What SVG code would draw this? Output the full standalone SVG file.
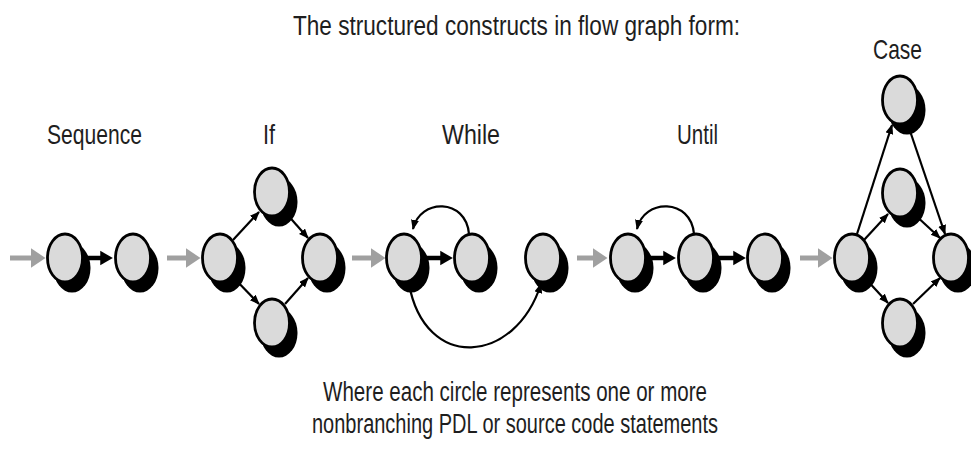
<svg xmlns="http://www.w3.org/2000/svg" xmlns:xlink="http://www.w3.org/1999/xlink" width="971" height="453" viewBox="0 0 971 453">
<style>
text{font-family:"Liberation Sans Narrow","Liberation Sans",Arial,sans-serif;fill:#1e1e1e;}
.t{font-size:27px;}
.l{font-size:28px;}
.sh{fill:#000;}
.nd{fill:#dadada;stroke:#000;stroke-width:2.8;}
.g{stroke:#a0a0a0;stroke-width:5;fill:none;marker-end:url(#ag);}
.k{stroke:#000;stroke-width:4.5;fill:none;marker-end:url(#ak);}
.e{stroke:#000;stroke-width:2.2;fill:none;marker-end:url(#ae);}
</style>
<defs>
<marker id="ag" markerWidth="4" markerHeight="4" refX="1.5" refY="2" orient="auto" markerUnits="strokeWidth"><path d="M0,0 L3,2 L0,4 z" fill="#a0a0a0"/></marker>
<marker id="ak" markerWidth="4" markerHeight="4" refX="1.5" refY="2" orient="auto" markerUnits="strokeWidth"><path d="M0,0.4 L2.8,2 L0,3.6 z" fill="#000"/></marker>
<marker id="ae" markerWidth="12" markerHeight="10" refX="9" refY="4" orient="auto" markerUnits="userSpaceOnUse"><path d="M0,0 L10,4 L0,8 z" fill="#000"/></marker>
<g id="n"><ellipse class="sh" cx="7" cy="10" rx="18.5" ry="24.5"/><ellipse class="nd" cx="0" cy="0" rx="17.5" ry="24"/></g>
</defs>

<text class="t" x="293" y="35" textLength="447" lengthAdjust="spacingAndGlyphs">The structured constructs in flow graph form:</text>
<text class="l" x="47" y="144" textLength="95" lengthAdjust="spacingAndGlyphs">Sequence</text>
<text class="l" x="263" y="144" textLength="12" lengthAdjust="spacingAndGlyphs">If</text>
<text class="l" x="442" y="144" textLength="58" lengthAdjust="spacingAndGlyphs">While</text>
<text class="l" x="677" y="144" textLength="41" lengthAdjust="spacingAndGlyphs">Until</text>
<text class="l" x="873" y="59" textLength="49" lengthAdjust="spacingAndGlyphs">Case</text>
<text class="t" x="323" y="401" textLength="384" lengthAdjust="spacingAndGlyphs">Where each circle represents one or more</text>
<text class="t" x="312" y="433" textLength="406" lengthAdjust="spacingAndGlyphs">nonbranching PDL or source code statements</text>

<g id="connectors">
<line class="g" x1="10" y1="258" x2="38" y2="258"/>
<line class="k" x1="84" y1="258" x2="107" y2="258"/>
<line class="g" x1="167" y1="258" x2="193" y2="258"/>
<line class="e" x1="233" y1="240" x2="259" y2="212"/>
<line class="e" x1="285" y1="212" x2="308" y2="238"/>
<line class="e" x1="233" y1="277" x2="259" y2="304"/>
<line class="e" x1="285" y1="304" x2="308" y2="278"/>
<line class="g" x1="352" y1="258" x2="378" y2="258"/>
<line class="k" x1="423" y1="258" x2="447" y2="258"/>
<path class="e" d="M469,234 C466,198 420,198 413,229"/>
<path class="e" d="M409,284 C425,372 515,365 541,284"/>
<line class="g" x1="577" y1="258" x2="600" y2="258"/>
<line class="k" x1="647" y1="258" x2="670" y2="258"/>
<line class="k" x1="715" y1="258" x2="740" y2="258"/>
<path class="e" d="M694,234 C691,198 644,198 637,229"/>
<line class="g" x1="800" y1="258" x2="825" y2="258"/>
<line class="e" x1="857" y1="234" x2="892" y2="125"/>
<line class="e" x1="908" y1="125" x2="945" y2="234"/>
<line class="e" x1="864" y1="240" x2="888" y2="214"/>
<line class="e" x1="913" y1="213" x2="940" y2="238"/>
<line class="e" x1="864" y1="277" x2="888" y2="303"/>
<line class="e" x1="913" y1="304" x2="940" y2="278"/>
</g>

<g id="seq1"><use xlink:href="#n" x="65" y="258"/></g>
<g id="seq2"><use xlink:href="#n" x="133" y="258"/></g>
<g id="if1"><use xlink:href="#n" x="220" y="258"/></g>
<g id="if2"><use xlink:href="#n" x="272" y="192"/></g>
<g id="if3"><use xlink:href="#n" x="320" y="258"/></g>
<g id="if4"><use xlink:href="#n" x="272" y="323"/></g>
<g id="wh1"><use xlink:href="#n" x="404" y="258"/></g>
<g id="wh2"><use xlink:href="#n" x="472" y="258"/></g>
<g id="wh3"><use xlink:href="#n" x="543" y="258"/></g>
<g id="un1"><use xlink:href="#n" x="628" y="258"/></g>
<g id="un2"><use xlink:href="#n" x="696" y="258"/></g>
<g id="un3"><use xlink:href="#n" x="765" y="258"/></g>
<g id="ca1"><use xlink:href="#n" x="852" y="258"/></g>
<g id="ca2"><use xlink:href="#n" x="900" y="100"/></g>
<g id="ca3"><use xlink:href="#n" x="900" y="193"/></g>
<g id="ca4"><use xlink:href="#n" x="951" y="258"/></g>
<g id="ca5"><use xlink:href="#n" x="900" y="323"/></g>
</svg>
